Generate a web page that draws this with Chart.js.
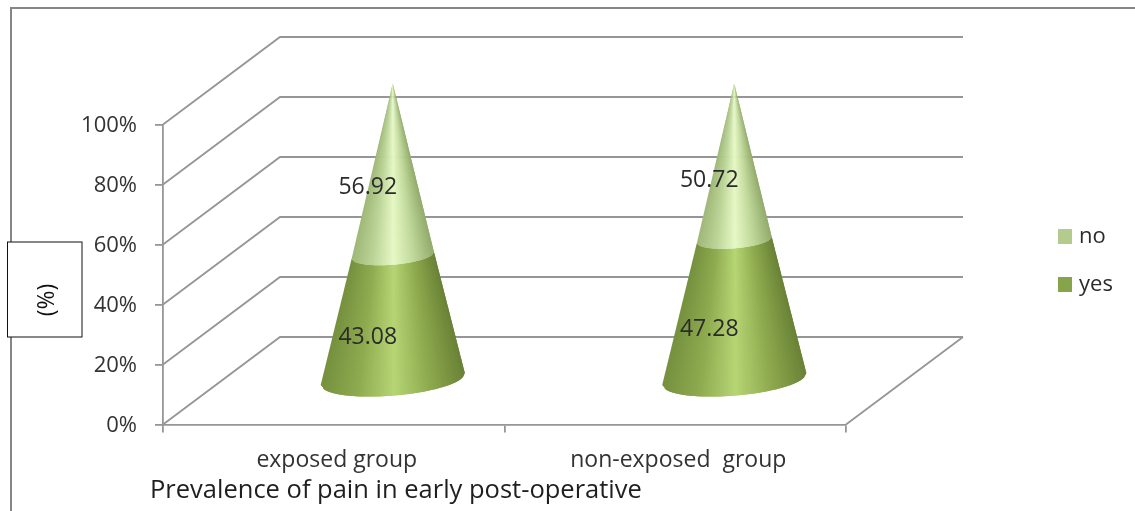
<!DOCTYPE html>
<html>
<head>
<meta charset="utf-8">
<title>Prevalence of pain</title>
<style>
  html, body { margin: 0; padding: 0; background: #fff; }
  canvas { display: block; }
</style>
<script src="https://cdn.jsdelivr.net/npm/chart.js@4"></script>
</head>
<body>
<canvas id="myChart" width="1135" height="511"></canvas>
<script>
const categories = ['exposed group', 'non-exposed  group'];
const yesValues = [43.08, 47.28];
const noValues = [56.92, 50.72];
const yTicks = [0, 20, 40, 60, 80, 100];

const FONT = '"Open Sans", sans-serif';
const LINE = '#969696';
const TEXT = '#2b2b2b';

// depth of the fake 3d box, in pixels
const DEPTH_X = 117;
const DEPTH_Y = 87.5;

// shading across a cone, from the left edge over the middle to the right edge
const yesShade = [[118, 145, 62], [143, 171, 80], [182, 213, 116], [142, 170, 78], [106, 130, 54]];
const noShade = [[160, 184, 120], [188, 213, 152], [230, 248, 197], [192, 216, 154], [147, 171, 108]];

// 100% stacked: each part is shown as a share of its group total
function share(values, others) {
    return values.map((v, i) => v / (v + others[i]) * 100);
}

function shadeAt(stops, pos) {
    const f = (pos + 1) / 2 * (stops.length - 1);
    const i = Math.min(Math.floor(f), stops.length - 2);
    const t = f - i;
    const c = stops[i].map((a, k) => Math.round(a + (stops[i + 1][k] - a) * t));
    return `rgb(${c[0]},${c[1]},${c[2]})`;
}

// one section of a cone, painted in strips around its front half.
// every strip runs on under the next one, so no seams show between them
function drawSection(ctx, axis, bottom, top, stops) {
    const STRIPS = 70;
    const rx = 72.3, ry = 16.5, tilt = -0.083;
    const point = (sec, angle) => {
        const u = rx * sec.scale * Math.cos(angle);
        const v = ry * sec.scale * Math.sin(angle);
        return [
            axis + u * Math.cos(tilt) - v * Math.sin(tilt),
            sec.y + u * Math.sin(tilt) + v * Math.cos(tilt)
        ];
    };
    const angleAt = i => Math.acos(1 - 2 * i / STRIPS);
    for (let i = 0; i < STRIPS; i++) {
        const a0 = Math.PI - angleAt(i);
        const a1 = Math.PI - angleAt(Math.min(i + 2, STRIPS));
        const p = [point(bottom, a0), point(bottom, a1), point(top, a1), point(top, a0)];
        ctx.beginPath();
        ctx.moveTo(p[0][0], p[0][1]);
        for (let k = 1; k < 4; k++) ctx.lineTo(p[k][0], p[k][1]);
        ctx.closePath();
        ctx.fillStyle = shadeAt(stops, Math.cos(Math.PI - angleAt(i + 0.5)));
        ctx.fill();
    }
}

const boxWalls = {
    id: 'boxWalls',
    beforeDatasetsDraw(chart) {
        const { ctx, scales: { x, y } } = chart;
        ctx.save();
        ctx.strokeStyle = LINE;
        ctx.lineWidth = 1.8;
        yTicks.forEach(t => {
            const py = y.getPixelForValue(t);
            ctx.beginPath();
            ctx.moveTo(x.left, py);
            ctx.lineTo(x.left + DEPTH_X, py - DEPTH_Y);
            ctx.lineTo(x.right + DEPTH_X, py - DEPTH_Y);
            ctx.stroke();
        });
        const floorY = y.getPixelForValue(0);
        ctx.beginPath();
        ctx.moveTo(x.right, floorY);
        ctx.lineTo(x.right + DEPTH_X, floorY - DEPTH_Y);
        ctx.stroke();
        ctx.restore();
    }
};

// bars are replaced by cones standing in the middle of the box depth
const cones = {
    id: 'cones',
    beforeDatasetsDraw(chart) {
        const { ctx } = chart;
        const yesBars = chart.getDatasetMeta(0).data;
        const noBars = chart.getDatasetMeta(1).data;
        const midX = DEPTH_X / 2 + 0.5;
        const midY = 41;
        categories.forEach((c, i) => {
            const axis = yesBars[i].x + midX;
            const base = yesBars[i].base;
            const tip = noBars[i].y;
            const joint = yesBars[i].y;
            const scaleAt = py => (py - tip) / (base - tip);
            const baseSec = { y: base - midY - 3.5, scale: 1 };
            const jointSec = { y: joint - midY + 1, scale: scaleAt(joint) };
            const tipSec = { y: tip - midY, scale: 0 };
            drawSection(ctx, axis, baseSec, jointSec, yesShade);
            drawSection(ctx, axis, jointSec, tipSec, noShade);
        });
        ctx.save();
        ctx.fillStyle = TEXT;
        ctx.font = '23px ' + FONT;
        ctx.textAlign = 'center';
        ctx.textBaseline = 'middle';
        categories.forEach((c, i) => {
            const lift = 22;
            const shift = 34;
            [[yesBars, yesValues], [noBars, noValues]].forEach(([bars, values]) => {
                const b = bars[i];
                ctx.fillText(values[i].toFixed(2), b.x + shift, (b.y + b.base) / 2 - lift);
            });
        });
        ctx.restore();
        return false;
    }
};

const decorations = {
    id: 'decorations',
    afterDraw(chart) {
        const { ctx, data } = chart;
        ctx.save();
        // outer frame, only top and left are visible
        ctx.strokeStyle = '#868686';
        ctx.lineWidth = 2;
        ctx.beginPath();
        ctx.moveTo(11, 511);
        ctx.lineTo(11, 8);
        ctx.lineTo(1135, 8);
        ctx.stroke();

        // legend
        ctx.font = '22px ' + FONT;
        ctx.textBaseline = 'middle';
        ctx.textAlign = 'left';
        [data.datasets[1], data.datasets[0]].forEach((ds, i) => {
            const top = 229 + i * 48;
            ctx.fillStyle = ds.backgroundColor;
            ctx.fillRect(1058, top, 14, 15);
            ctx.fillStyle = TEXT;
            ctx.fillText(ds.label, 1079, top + 8);
        });

        ctx.font = '25.5px ' + FONT;
        ctx.fillStyle = '#1f1f1f';
        ctx.fillText('Prevalence of pain in early post-operative', 150, 491);

        // axis caption in its own box
        ctx.fillStyle = '#fff';
        ctx.strokeStyle = '#111';
        ctx.lineWidth = 1;
        ctx.fillRect(7.5, 242, 74.5, 95);
        ctx.strokeRect(7.5, 242, 74.5, 95);
        ctx.translate(47, 300);
        ctx.rotate(-Math.PI / 2);
        ctx.textAlign = 'center';
        ctx.fillStyle = '#111';
        ctx.font = '23px ' + FONT;
        ctx.fillText('(%)', 0, 0);
        ctx.restore();
    }
};

new Chart(document.getElementById('myChart').getContext('2d'), {
    type: 'bar',
    data: {
        labels: categories,
        datasets: [
            { label: 'yes', data: share(yesValues, noValues), backgroundColor: '#86a44a' },
            { label: 'no', data: share(noValues, yesValues), backgroundColor: '#b3cc8e' }
        ]
    },
    options: {
        responsive: false,
        animation: false,
        layout: { padding: { top: 124.5, right: 289, left: 0, bottom: 0 } },
        plugins: { legend: { display: false }, tooltip: { enabled: false } },
        scales: {
            x: {
                stacked: true,
                border: { color: LINE, width: 1.8 },
                grid: { drawOnChartArea: false, color: LINE, lineWidth: 1.8, tickLength: 8 },
                ticks: { color: '#333', font: { family: FONT, size: 23 }, padding: 14, labelOffset: 3, maxRotation: 0 },
                afterFit(s) { s.height = 86.5; }
            },
            y: {
                stacked: true,
                min: 0,
                max: 100,
                afterBuildTicks(s) { s.ticks = yTicks.map(v => ({ value: v })); },
                border: { color: LINE, width: 1.8 },
                grid: { drawOnChartArea: false, color: LINE, lineWidth: 1.8, tickLength: 8 },
                ticks: {
                    color: '#333',
                    font: { family: FONT, size: 22 },
                    padding: 18,
                    labelOffset: 1.5,
                    callback: v => v + '%'
                },
                afterFit(s) { s.width = 163; }
            }
        }
    },
    plugins: [boxWalls, cones, decorations]
});
</script>
</body>
</html>
